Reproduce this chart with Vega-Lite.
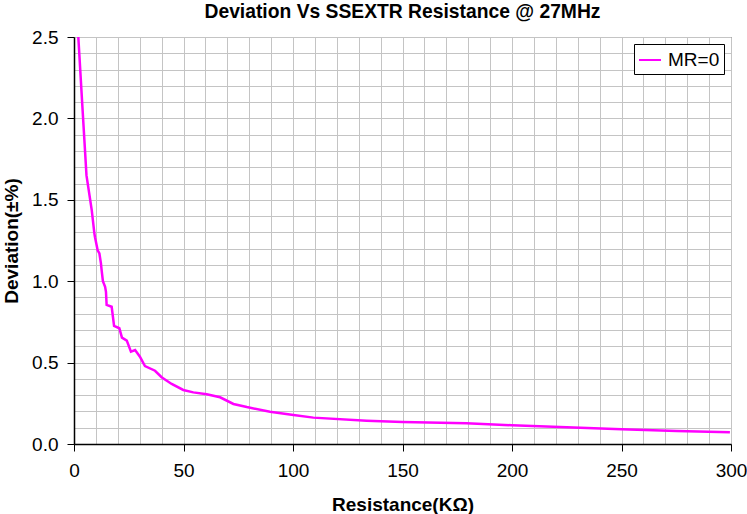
{
  "$schema": "https://vega.github.io/schema/vega-lite/v6.json",
  "autosize": {"type": "none"},
  "width": 657,
  "height": 407,
  "padding": {"left": 74, "top": 37, "right": 16, "bottom": 70},
  "background": "white",
  "title": {
    "text": "Deviation Vs SSEXTR Resistance @ 27MHz",
    "font": "Liberation Sans",
    "fontSize": 19.3,
    "fontWeight": "bold",
    "color": "#000",
    "anchor": "middle",
    "offset": 6
  },
  "config": {
    "font": "Liberation Sans",
    "view": {"stroke": "#333", "strokeWidth": 1}
  },
  "data": {
    "values": [
      {"r": 1.97, "dev": 2.5},
      {"r": 3.8, "dev": 2.08},
      {"r": 5.7, "dev": 1.65},
      {"r": 8.1, "dev": 1.437},
      {"r": 9.3, "dev": 1.294},
      {"r": 9.6, "dev": 1.27},
      {"r": 10.8, "dev": 1.19},
      {"r": 11.6, "dev": 1.17},
      {"r": 12.3, "dev": 1.11},
      {"r": 12.6, "dev": 1.07},
      {"r": 13.2, "dev": 1.0},
      {"r": 14.2, "dev": 0.966},
      {"r": 14.6, "dev": 0.935},
      {"r": 14.9, "dev": 0.854},
      {"r": 17.2, "dev": 0.843},
      {"r": 18.3, "dev": 0.725},
      {"r": 20.7, "dev": 0.711},
      {"r": 21.9, "dev": 0.653},
      {"r": 24.1, "dev": 0.635},
      {"r": 26.0, "dev": 0.567},
      {"r": 27.9, "dev": 0.577},
      {"r": 30.1, "dev": 0.536},
      {"r": 32.4, "dev": 0.479},
      {"r": 37.0, "dev": 0.45},
      {"r": 40.0, "dev": 0.41},
      {"r": 44.6, "dev": 0.369},
      {"r": 49.9, "dev": 0.332},
      {"r": 54.5, "dev": 0.317},
      {"r": 60.6, "dev": 0.305},
      {"r": 66.7, "dev": 0.287},
      {"r": 72.8, "dev": 0.246},
      {"r": 78.9, "dev": 0.227},
      {"r": 89.5, "dev": 0.198},
      {"r": 100.2, "dev": 0.178},
      {"r": 109.3, "dev": 0.162},
      {"r": 133.6, "dev": 0.143},
      {"r": 150, "dev": 0.135},
      {"r": 179.2, "dev": 0.127},
      {"r": 199.9, "dev": 0.115},
      {"r": 225, "dev": 0.103},
      {"r": 250, "dev": 0.09},
      {"r": 275.2, "dev": 0.08},
      {"r": 299.5, "dev": 0.072}
    ]
  },
  "mark": {"type": "line", "strokeWidth": 2.5, "clip": true},
  "encoding": {
    "x": {
      "field": "r",
      "type": "quantitative",
      "scale": {"domain": [0, 300], "nice": false},
      "axis": {
        "title": "Resistance(KΩ)",
        "titleFontSize": 19,
        "titleFontWeight": "bold",
        "titleColor": "#000",
        "titlePadding": 15,
        "values": [0,10,20,30,40,50,60,70,80,90,100,110,120,130,140,150,160,170,180,190,200,210,220,230,240,250,260,270,280,290,300],
        "labelExpr": "datum.value % 50 === 0 ? datum.label : ''",
        "labelOverlap": false,
        "labelFlush": false,
        "labelFontSize": 19,
        "labelColor": "#000",
        "labelPadding": 10,
        "tickSize": 7,
        "tickColor": "#000",
        "tickOpacity": {"condition": {"test": "datum.value % 50 === 0", "value": 1}, "value": 0},
        "domainColor": "#000",
        "domainWidth": 1.5,
        "grid": true,
        "gridColor": "#c4c4c4",
        "gridWidth": 1,
        "gridOpacity": 1
      }
    },
    "y": {
      "field": "dev",
      "type": "quantitative",
      "scale": {"domain": [0, 2.5], "nice": false},
      "axis": {
        "title": "Deviation(±%)",
        "titleFontSize": 19,
        "titleFontWeight": "bold",
        "titleColor": "#000",
        "titlePadding": 10,
        "values": [0,0.1,0.2,0.3,0.4,0.5,0.6,0.7,0.8,0.9,1.0,1.1,1.2,1.3,1.4,1.5,1.6,1.7,1.8,1.9,2.0,2.1,2.2,2.3,2.4,2.5],
        "labelExpr": "abs(datum.value*2 - round(datum.value*2)) < 0.000001 ? format(datum.value, '.1f') : ''",
        "labelOverlap": false,
        "labelFlush": false,
        "labelFontSize": 19,
        "labelColor": "#000",
        "labelPadding": 9,
        "tickSize": 7,
        "tickColor": "#000",
        "tickOpacity": {"condition": {"test": "abs(datum.value*2 - round(datum.value*2)) < 0.000001", "value": 1}, "value": 0},
        "domainColor": "#000",
        "domainWidth": 1.5,
        "grid": true,
        "gridColor": "#c4c4c4",
        "gridWidth": 1,
        "gridOpacity": 1
      }
    },
    "color": {
      "datum": "MR=0",
      "type": "nominal",
      "scale": {"domain": ["MR=0"], "range": ["#ff00ff"]},
      "legend": {
        "title": null,
        "orient": "top-right",
        "offset": 7,
        "fillColor": "white",
        "strokeColor": "#000",
        "padding": 4,
        "symbolType": "stroke",
        "symbolSize": 484,
        "symbolStrokeWidth": 2,
        "labelFontSize": 19,
        "labelColor": "#000",
        "labelOffset": 6
      }
    }
  }
}
